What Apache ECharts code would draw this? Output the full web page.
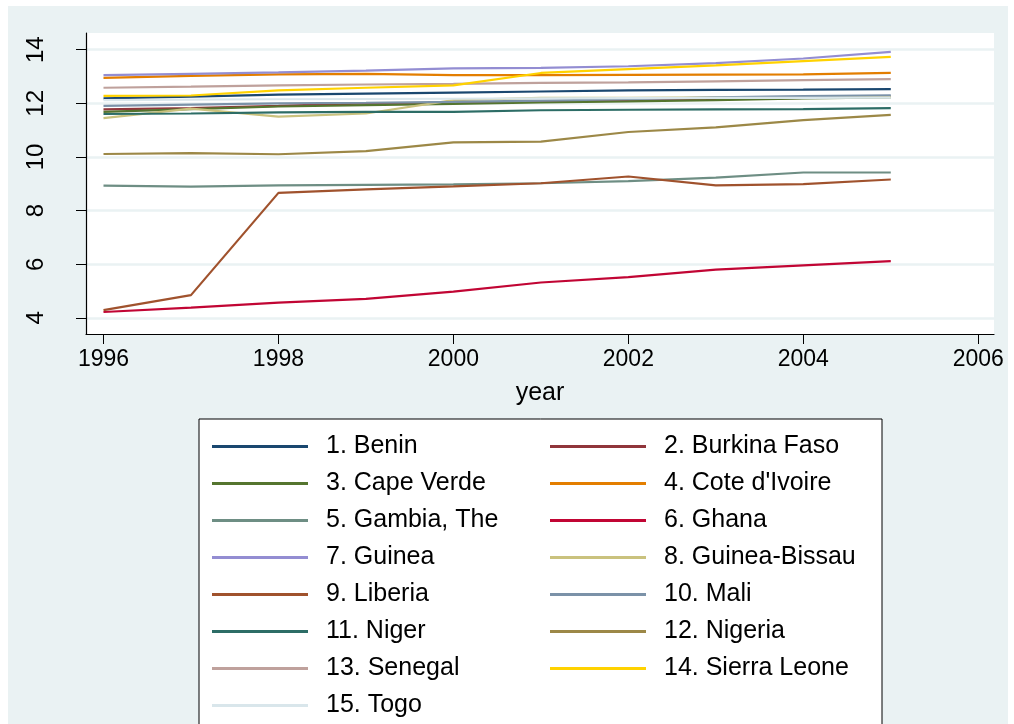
<!DOCTYPE html>
<html>
<head>
<meta charset="utf-8">
<script src="https://cdn.jsdelivr.net/npm/echarts@6/dist/echarts.min.js"></script>
<style>
  html, body { margin: 0; padding: 0; background: #fff; }
  #chart { width: 1014px; height: 724px; }
</style>
</head>
<body>
<div id="chart"></div>
<script>
// years on the x axis
const years = [1996, 1997, 1998, 1999, 2000, 2001, 2002, 2003, 2004, 2005];
const xTicks = [1996, 1998, 2000, 2002, 2004, 2006];
const yTicks = [4, 6, 8, 10, 12, 14];

const countries = [
  "1. Benin", "2. Burkina Faso", "3. Cape Verde", "4. Cote d'Ivoire",
  "5. Gambia, The", "6. Ghana", "7. Guinea", "8. Guinea-Bissau",
  "9. Liberia", "10. Mali", "11. Niger", "12. Nigeria",
  "13. Senegal", "14. Sierra Leone", "15. Togo"
];

const benin = [12.18, 12.25, 12.32, 12.36, 12.4, 12.44, 12.48, 12.5, 12.51, 12.53];
const burkinaFaso = [11.77, 11.82, 11.9, 12.0, 12.02, 12.06, 12.1, 12.15, 12.2, 12.25];
const capeVerde = [11.68, 11.78, 11.88, 11.93, 11.98, 12.03, 12.07, 12.12, 12.18, 12.22];
const coteIvoire = [12.95, 13.02, 13.08, 13.1, 13.05, 13.05, 13.06, 13.07, 13.08, 13.13];
const gambia = [8.93, 8.89, 8.94, 8.96, 8.98, 9.02, 9.1, 9.23, 9.42, 9.42];
const ghana = [4.22, 4.38, 4.57, 4.71, 4.98, 5.32, 5.52, 5.8, 5.96, 6.12];
const guinea = [13.05, 13.1, 13.15, 13.22, 13.3, 13.32, 13.38, 13.5, 13.67, 13.92];
const guineaBissau = [11.45, 11.8, 11.5, 11.62, 12.12, 12.2, 12.2, 12.22, 12.22, 12.24];
const liberia = [4.29, 4.85, 8.66, 8.79, 8.9, 9.02, 9.27, 8.94, 8.99, 9.16];
const mali = [11.9, 11.95, 12.0, 12.02, 12.05, 12.1, 12.15, 12.22, 12.27, 12.3];
const niger = [11.6, 11.62, 11.66, 11.68, 11.68, 11.74, 11.76, 11.77, 11.78, 11.82];
const nigeria = [10.11, 10.14, 10.1, 10.22, 10.54, 10.57, 10.93, 11.1, 11.37, 11.57];
const senegal = [12.58, 12.62, 12.67, 12.7, 12.72, 12.76, 12.78, 12.82, 12.86, 12.9];
const sierraLeone = [12.28, 12.29, 12.48, 12.58, 12.67, 13.13, 13.27, 13.41, 13.57, 13.73];
const togo = [12.12, 12.14, 12.15, 12.16, 12.17, 12.18, 12.19, 12.2, 12.2, 12.21];

const values = [benin, burkinaFaso, capeVerde, coteIvoire, gambia, ghana, guinea,
  guineaBissau, liberia, mali, niger, nigeria, senegal, sierraLeone, togo];

// stata s2color
const colors = ["#1a476f", "#90353b", "#55752f", "#e37e00", "#6e8e84", "#c10534",
  "#938dd2", "#cac27e", "#a0522d", "#7b92a8", "#2d6d66", "#9c8847", "#bfa19c",
  "#ffd200", "#d9e6eb"];

const font = "Liberation Sans, Arial, sans-serif";

const myChart = echarts.init(document.getElementById("chart"));

const series = countries.map(function (name, i) {
  return {
    name: name,
    type: "line",
    showSymbol: false,
    symbol: "none",
    animation: false,
    lineStyle: { width: 2.2, color: colors[i] },
    itemStyle: { color: colors[i] },
    data: years.map(function (y, k) { return [y, values[i][k]]; })
  };
});

const option = {
  backgroundColor: "#fff",
  color: colors,
  animation: false,
  graphic: [{
    type: "rect",
    z: -10,
    silent: true,
    shape: { x: 8, y: 6, width: 1000, height: 730 },
    style: { fill: "#eaf2f3" }
  }],
  grid: {
    left: 86,
    top: 33,
    right: 20,
    bottom: 390,
    show: true,
    backgroundColor: "#fff",
    borderWidth: 0
  },
  xAxis: {
    type: "value",
    min: 1995.8,
    max: 2006.18,
    name: "year",
    nameLocation: "middle",
    nameGap: 47,
    nameTextStyle: { fontFamily: font, fontSize: 25, color: "#000" },
    axisLine: { show: true, lineStyle: { color: "#000", width: 1.2 } },
    axisTick: { show: true, length: 10, customValues: xTicks, lineStyle: { color: "#000" } },
    axisLabel: {
      customValues: xTicks,
      formatter: function (v) { return String(v); },
      fontFamily: font, fontSize: 23, color: "#000", margin: 14
    },
    splitLine: { show: false }
  },
  yAxis: {
    type: "value",
    min: 3.4,
    max: 14.62,
    axisLine: { show: true, lineStyle: { color: "#000", width: 1.2 } },
    axisTick: { show: true, length: 10, customValues: yTicks, lineStyle: { color: "#000" } },
    axisLabel: { customValues: yTicks, rotate: 90, fontFamily: font, fontSize: 24, color: "#000", margin: 38 },
    splitLine: { show: true, customValues: yTicks, lineStyle: { color: "#eaf2f3", width: 2.5 } }
  },
  legend: {
    left: 199,
    top: 419,
    width: 666,
    orient: "horizontal",
    selectedMode: false,
    icon: "rect",
    itemWidth: 96,
    itemHeight: 3,
    itemGap: 10,
    padding: [14, 4, 30, 13],
    backgroundColor: "#fff",
    borderColor: "#000",
    borderWidth: 1,
    textStyle: {
      fontFamily: font,
      fontSize: 25,
      color: "#000",
      width: 214,
      lineHeight: 27,
      padding: [0, 0, 0, 13]
    },
    data: countries
  },
  series: series
};

myChart.setOption(option);

window.addEventListener("resize", function () {
  myChart.resize();
});
</script>
</body>
</html>
